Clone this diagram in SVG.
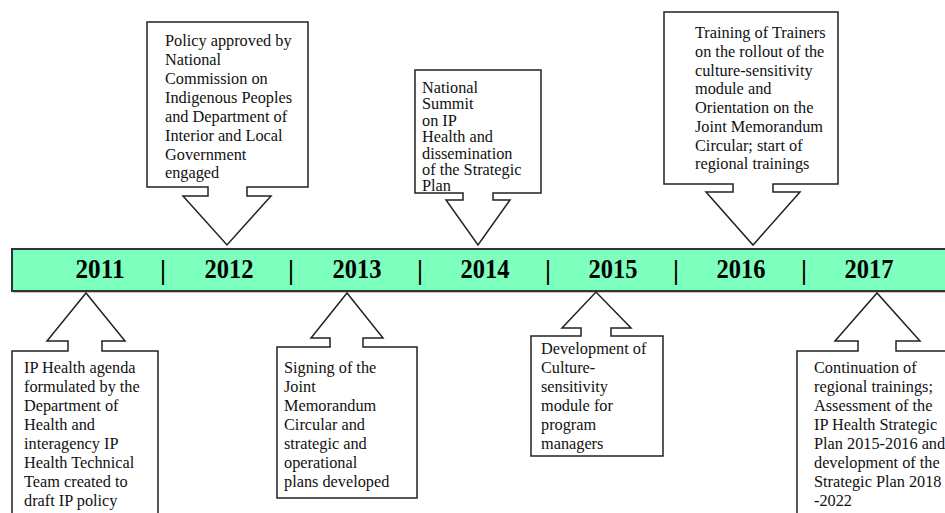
<svg xmlns="http://www.w3.org/2000/svg" width="945" height="513" viewBox="0 0 945 513">
<style>
.co{fill:#fff;stroke:#222;stroke-width:1.5;stroke-linejoin:miter}
.t{font-family:"Liberation Serif","Times New Roman",serif;font-size:16.3px;fill:#111}
.yr{font-family:"Liberation Serif","Times New Roman",serif;font-size:28px;font-weight:bold;fill:#000;text-anchor:middle}
.sep{font-family:"Liberation Serif","Times New Roman",serif;font-size:27px;font-weight:bold;fill:#000;text-anchor:middle}
</style>
<rect width="945" height="513" fill="#fff"/>
<g id="timeline">
<rect x="13" y="250.5" width="940" height="42" fill="#888"/>
<rect x="12" y="249" width="940" height="42" fill="#7dffbe" stroke="#333" stroke-width="2"/>
<text class="yr" x="100" y="277.5" textLength="49" lengthAdjust="spacingAndGlyphs">2011</text>
<text class="sep" x="163" y="279">|</text>
<text class="yr" x="229" y="277.5" textLength="49" lengthAdjust="spacingAndGlyphs">2012</text>
<text class="sep" x="291" y="279">|</text>
<text class="yr" x="357" y="277.5" textLength="49" lengthAdjust="spacingAndGlyphs">2013</text>
<text class="sep" x="420" y="279">|</text>
<text class="yr" x="485" y="277.5" textLength="49" lengthAdjust="spacingAndGlyphs">2014</text>
<text class="sep" x="548" y="279">|</text>
<text class="yr" x="613" y="277.5" textLength="49" lengthAdjust="spacingAndGlyphs">2015</text>
<text class="sep" x="676" y="279">|</text>
<text class="yr" x="741" y="277.5" textLength="49" lengthAdjust="spacingAndGlyphs">2016</text>
<text class="sep" x="804" y="279">|</text>
<text class="yr" x="869" y="277.5" textLength="49" lengthAdjust="spacingAndGlyphs">2017</text>
</g>
<g id="connectors"></g>
<g id="e2011">
<path class="co" d="M12,520 V351 H68 V341 H47 L86,293 L125,341 H102 V351 H158 V520"/>
<text class="t"><tspan x="24" y="373">IP Health agenda</tspan><tspan x="24" y="392">formulated by the</tspan><tspan x="24" y="411">Department of</tspan><tspan x="24" y="430">Health and</tspan><tspan x="24" y="449">interagency IP</tspan><tspan x="24" y="468">Health Technical</tspan><tspan x="24" y="487">Team created to</tspan><tspan x="24" y="506">draft IP policy</tspan></text>
</g>
<g id="e2012">
<path class="co" d="M147,22 H308 V187 H247 V196 H271 L227,245 L183,196 H208 V187 H147 Z"/>
<text class="t"><tspan x="165" y="46">Policy approved by</tspan><tspan x="165" y="65">National</tspan><tspan x="165" y="84">Commission on</tspan><tspan x="165" y="103">Indigenous Peoples</tspan><tspan x="165" y="122">and Department of</tspan><tspan x="165" y="141">Interior and Local</tspan><tspan x="165" y="160">Government</tspan><tspan x="165" y="178">engaged</tspan></text>
</g>
<g id="e2013">
<path class="co" d="M277,347 H330 V338 H311 L347,293 L383,338 H363 V347 H417 V498 H277 Z"/>
<text class="t"><tspan x="284" y="373">Signing of the</tspan><tspan x="284" y="392">Joint</tspan><tspan x="284" y="411">Memorandum</tspan><tspan x="284" y="430">Circular and</tspan><tspan x="284" y="449">strategic and</tspan><tspan x="284" y="468">operational</tspan><tspan x="284" y="487">plans developed</tspan></text>
</g>
<g id="e2014">
<path class="co" d="M415,70 H541 V193 H493 V200 H510 L478,245 L446,200 H463 V193 H415 Z"/>
<text class="t"><tspan x="422" y="93">National</tspan><tspan x="422" y="109.4">Summit</tspan><tspan x="422" y="125.8">on IP</tspan><tspan x="422" y="142.2">Health and</tspan><tspan x="422" y="158.6">dissemination</tspan><tspan x="422" y="175">of the Strategic</tspan><tspan x="422" y="191.2">Plan</tspan></text>
</g>
<g id="e2015">
<path class="co" d="M531,336 H581 V328 H562 L596,292 L631,328 H611 V336 H663 V456 H531 Z"/>
<text class="t"><tspan x="541" y="354">Development of</tspan><tspan x="541" y="373">Culture-</tspan><tspan x="541" y="392">sensitivity</tspan><tspan x="541" y="411">module for</tspan><tspan x="541" y="430">program</tspan><tspan x="541" y="449">managers</tspan></text>
</g>
<g id="e2016">
<path class="co" d="M664,12 H838 V184 H773 V192 H800 L753,245 L706,192 H733 V184 H664 Z"/>
<text class="t"><tspan x="695" y="38">Training of Trainers</tspan><tspan x="695" y="57">on the rollout of the</tspan><tspan x="695" y="76">culture-sensitivity</tspan><tspan x="695" y="94">module and</tspan><tspan x="695" y="113">Orientation on the</tspan><tspan x="695" y="132">Joint Memorandum</tspan><tspan x="695" y="151">Circular; start of</tspan><tspan x="695" y="169">regional trainings</tspan></text>
</g>
<g id="e2017">
<path class="co" d="M797,520 V351 H858 V341 H835 L877,293 L920,341 H896 V351 H960"/>
<text class="t"><tspan x="814" y="373">Continuation of</tspan><tspan x="814" y="392">regional trainings;</tspan><tspan x="814" y="411">Assessment of the</tspan><tspan x="814" y="430">IP Health Strategic</tspan><tspan x="814" y="449">Plan 2015-2016 and</tspan><tspan x="814" y="468">development of the</tspan><tspan x="814" y="487">Strategic Plan 2018</tspan><tspan x="814" y="506">-2022</tspan></text>
</g>
</svg>
